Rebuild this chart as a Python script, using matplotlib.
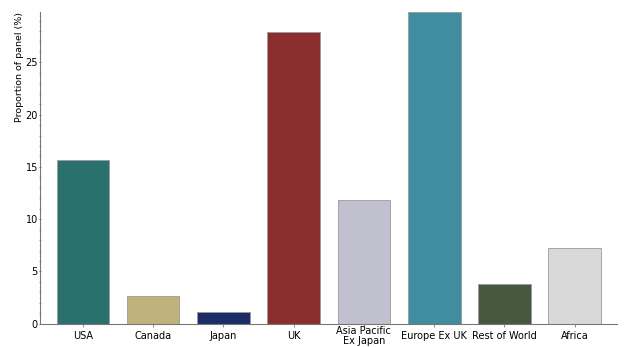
import matplotlib
matplotlib.use("Agg")
import matplotlib.pyplot as plt
from matplotlib.ticker import MultipleLocator

regions = ["USA", "Canada", "Japan", "UK", "Asia Pacific\nEx Japan",
           "Europe Ex UK", "Rest of World", "Africa"]
share = [15.7, 2.7, 1.1, 27.9, 11.8, 29.8, 3.8, 7.2]
colors = ["#2a716d", "#bfb27a", "#1b2d66", "#8b2f2e", "#c0c0cf",
          "#3f8d9f", "#46583f", "#d9d9d9"]

plt.rcParams["font.family"] = ["DejaVu Sans"]
fig = plt.figure(figsize=(6.25, 3.47), dpi=100)
ax = fig.add_axes([0.064, 0.067, 0.923, 0.898])

x = range(len(regions))
ax.bar(x, share, width=0.75, color=colors, edgecolor="#9a9a9a", linewidth=0.6)

ax.set_xlim(-0.61, 7.6)
ax.set_ylim(0, 29.8)
ax.set_xticks(list(x))
ax.set_xticklabels(regions, fontsize=7, linespacing=0.95, va="center")
ax.yaxis.set_major_locator(MultipleLocator(5))
ax.yaxis.set_minor_locator(MultipleLocator(1))
ax.tick_params(axis="y", labelsize=7, length=2, width=0.6, color="#555555",
               pad=0.5, direction="inout")
ax.tick_params(axis="y", which="minor", length=1.5, width=0.5, color="#777777",
               direction="inout")
ax.tick_params(axis="x", length=2, width=0.6, color="#777777", pad=7)
ax.set_ylabel("Proportion of panel (%)", fontsize=6.8, loc="top")
ax.yaxis.set_label_coords(-0.028, 1.0)

for side in ("top", "right"):
    ax.spines[side].set_visible(False)
for side in ("left", "bottom"):
    ax.spines[side].set_color("#777777")
    ax.spines[side].set_linewidth(0.8)

fig.savefig("out.png", dpi=100)
